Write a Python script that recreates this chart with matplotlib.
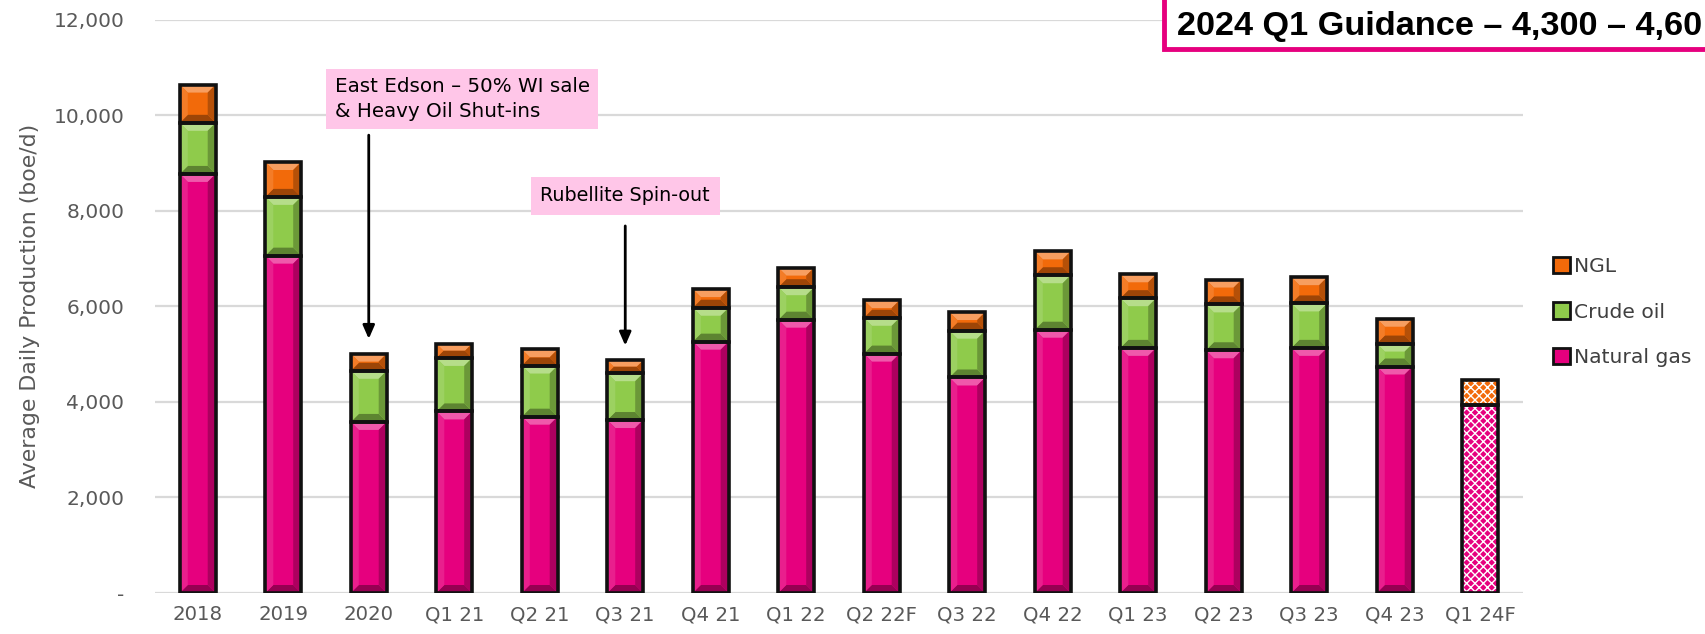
import numpy as np
import matplotlib
matplotlib.use("Agg")
import matplotlib.pyplot as plt
from matplotlib.patches import Polygon, Rectangle, Patch
from matplotlib.colors import to_rgb

categories = ["2018", "2019", "2020", "Q1 21", "Q2 21", "Q3 21", "Q4 21", "Q1 22",
              "Q2 22F", "Q3 22", "Q4 22", "Q1 23", "Q2 23", "Q3 23", "Q4 23", "Q1 24F"]
natural_gas = [8770, 7060, 3580, 3800, 3690, 3620, 5260, 5720, 5010, 4510, 5510, 5130, 5080, 5130, 4740, 3940]
crude_oil   = [1070, 1230, 1070, 1120, 1070,  980,  710,  680,  750,  980, 1140, 1040,  960,  930,  480,    0]
ngl         = [ 800,  730,  360,  300,  340,  270,  390,  410,  370,  390,  500,  500,  520,  550,  520,  520]
forecast    = [False]*15 + [True]
yticks = [0, 2000, 4000, 6000, 8000, 10000, 12000]
ytick_labels = ["-", "2,000", "4,000", "6,000", "8,000", "10,000", "12,000"]
title_text = "2024 Q1 Guidance \u2013 4,300 \u2013 4,60"

GAS = "#E6007E"
OIL = "#8FCB4B"
NGLC = "#F26A0A"
GRAY = "#595959"

plt.rcParams['font.family'] = ['DejaVu Sans']
fig = plt.figure(figsize=(17.06, 6.34), dpi=100)
ax = fig.add_axes([155/1706, 41/634, (1523-155)/1706, (593-19.6)/634])
ax.set_xlim(-0.5, 15.5)
ax.set_ylim(0, 12000)

x = np.arange(len(categories))
width = 0.42
gas = np.array(natural_gas, float)
oil = np.array(crude_oil, float)
ng = np.array(ngl, float)

ax.set_yticks(yticks)
ax.set_yticklabels(ytick_labels, fontsize=14.5, color=GRAY)
ax.set_xticks(x)
ax.set_xticklabels(categories, fontsize=14.2, color=GRAY)
ax.tick_params(axis='both', length=0)
ax.tick_params(axis='x', pad=9)
ax.tick_params(axis='y', pad=22)
for s in ax.spines.values():
    s.set_visible(False)
ax.yaxis.grid(True, color="#D9D9D9", lw=1.6)
ax.set_axisbelow(True)
ax.set_ylabel("Average Daily Production (boe/d)", fontsize=15.8, color=GRAY, labelpad=10)


def mix(c, other, t):
    a = np.array(to_rgb(c)); b = np.array(to_rgb(other))
    return tuple(a*(1-t) + b*t)


def bevel(patch, color):
    x0, y0, w, h = patch.get_x(), patch.get_y(), patch.get_width(), patch.get_height()
    if h <= 0:
        return
    T = ax.transData
    (px0, py0) = T.transform((x0, y0))
    (px1, py1) = T.transform((x0 + w, y0 + h))
    b = min(8.0, (py1 - py0)/2.0, (px1 - px0)/2.0)
    inv = T.inverted()
    def poly(pts, c):
        d = inv.transform(np.array(pts))
        ax.add_patch(Polygon(d, closed=True, facecolor=c, edgecolor='none', zorder=3))
    poly([(px0, py1), (px1, py1), (px1-b, py1-b), (px0+b, py1-b)], mix(color, 'white', 0.35))
    poly([(px0, py0), (px1, py0), (px1-b, py0+b), (px0+b, py0+b)], mix(color, 'black', 0.35))
    poly([(px0, py0), (px0, py1), (px0+b, py1-b), (px0+b, py0+b)], mix(color, 'white', 0.12))
    poly([(px1, py0), (px1, py1), (px1-b, py1-b), (px1-b, py0+b)], mix(color, 'black', 0.25))


plt.rcParams['hatch.linewidth'] = 1.0
series = [(gas, np.zeros_like(gas), GAS), (oil, gas, OIL), (ng, gas + oil, NGLC)]
for vals, bottoms, col in series:
    for i in range(len(x)):
        if vals[i] <= 0:
            continue
        if forecast[i]:
            ax.bar(x[i], vals[i], width, bottom=bottoms[i], facecolor=col,
                   edgecolor='white', linewidth=0, hatch='xxxx', zorder=2)
        else:
            bars = ax.bar(x[i], vals[i], width, bottom=bottoms[i], facecolor=col,
                          edgecolor='none', linewidth=0, zorder=2)
            bevel(bars[0], col)
        ax.bar(x[i], vals[i], width, bottom=bottoms[i], facecolor='none',
               edgecolor='#111111', linewidth=2.6, zorder=4)

totals = gas + oil + ng

# Annotations
box_kw = dict(boxstyle='square,pad=0.42', facecolor='#FFC6E8', edgecolor='none')
ax.text(1.6, 10340, "East Edson \u2013 50% WI sale\n& Heavy Oil Shut-ins", fontsize=14.3,
        ha='left', va='center', bbox=box_kw, linespacing=1.4, zorder=5)
ax.annotate("", xy=(2, totals[2] + 250), xytext=(2, 9640),
            arrowprops=dict(arrowstyle='-|>,head_length=0.8,head_width=0.35', color='black', lw=2),
            zorder=5)
ax.text(5, 8310, "Rubellite Spin-out", fontsize=13.8, ha='center', va='center',
        bbox=dict(boxstyle='square,pad=0.5', facecolor='#FFC6E8', edgecolor='none'), zorder=5)
ax.annotate("", xy=(5, totals[5] + 250), xytext=(5, 7740),
            arrowprops=dict(arrowstyle='-|>,head_length=0.8,head_width=0.35', color='black', lw=2),
            zorder=5)

# Title box (runs off the right edge, as in the reference)
fig.patches.append(Rectangle((1164/1706, 1 - 49/634), 0.5, 0.2, transform=fig.transFigure,
                             facecolor='white', edgecolor='#E6007E', linewidth=3.5, zorder=10))
t = fig.text(1177/1706, 1 - 27/634, title_text, fontsize=24, family=['Liberation Sans', 'DejaVu Sans'],
             fontweight='bold', ha='left', va='center', color='black', zorder=11)
fig.canvas.draw()
bb = t.get_window_extent()
target = 1703 - 1177
t.set_fontsize(24 * target / bb.width)

# Legend
handles = [Patch(facecolor=NGLC, edgecolor='#111111', linewidth=2),
           Patch(facecolor=OIL, edgecolor='#111111', linewidth=2),
           Patch(facecolor=GAS, edgecolor='#111111', linewidth=2)]
fig.legend(handles, ["NGL", "Crude oil", "Natural gas"], loc='center left',
           bbox_to_anchor=(1543/1706, 1 - 312/634), frameon=False, fontsize=14.6,
           handlelength=0.85, handleheight=0.85, handletextpad=0.2, labelspacing=1.3,
           labelcolor='#404040', borderpad=0)

fig.savefig("out.png", dpi=100)
